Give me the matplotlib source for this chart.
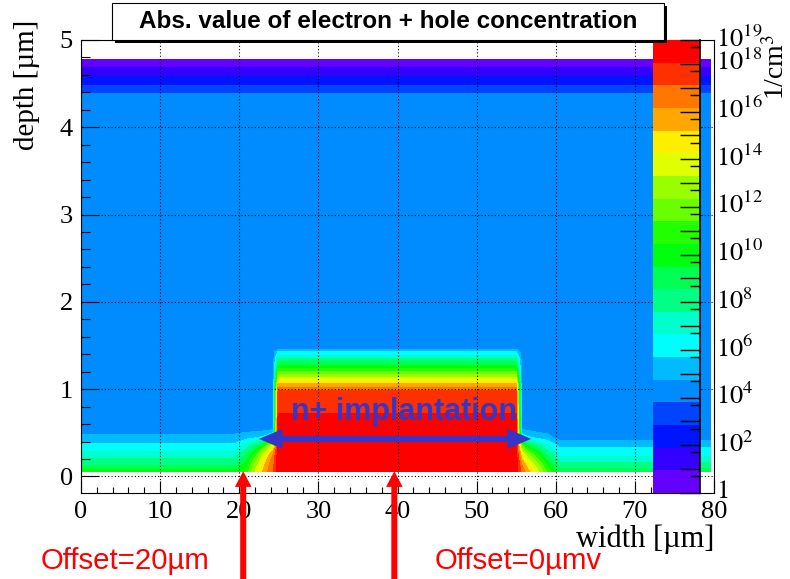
import numpy as np
import matplotlib
matplotlib.use("Agg")
import matplotlib.pyplot as plt
import matplotlib.transforms as mtransforms
from matplotlib.colors import hsv_to_rgb
from matplotlib.patches import Rectangle, FancyArrow
from matplotlib.ticker import FixedLocator, MultipleLocator, FuncFormatter

plt.rcParams["font.family"] = ["Liberation Serif", "DejaVu Serif"]
plt.rcParams["mathtext.fontset"] = "stix"

# ---------------------------------------------------------------------------
# Simulated carrier concentration, log10(|n| + |p|) in 1/cm^3
# ---------------------------------------------------------------------------
depth_um = [0.06, 0.15, 0.25, 0.35, 0.45, 0.55, 0.75, 0.98, 1.06, 1.20,
            1.35, 1.43, 1.47, 4.33, 4.785]
n_surface = 6                      # nodes of the shallow surface layer

bulk_log = 4.3                     # undepleted bulk
back_side_log = 0.1                # depleted back side

# n+ implant, full depth profile
implant_x = [24.9, 30.0, 40.0, 50.0, 55.0]
implant_log = [18.6, 18.6, 18.55, 18.5, 18.45, 18.4, 18.0, 17.1, 15.2, 11.4,
               7.6, 5.7, 4.3, 4.3, 0.1]

# surface layer away from the implant
left_x = [0.0, 5.0, 10.0, 15.0, 19.5]
left_surface_log = [9.8, 8.2, 7.1, 6.0, 5.0, 4.3]
right_x = [60.5, 65.0, 70.0, 75.0, 79.6]
right_surface_log = [9.0, 7.8, 6.4, 5.5, 4.3, 4.3]

# lateral diffusion next to the implant
left_edge_x = [21.0, 22.5, 23.7, 24.3]
left_edge_log = [
    [11.0, 10.0, 8.8, 7.2, 5.3, 4.3],
    [14.5, 13.5, 12.0, 9.0, 5.6, 4.3],
    [16.3, 16.0, 15.0, 12.5, 6.3, 4.3],
    [17.0, 16.8, 16.2, 14.0, 7.0, 4.5],
]
right_edge_x = [55.7, 56.5, 57.7, 59.0]
right_edge_log = [
    [16.8, 16.0, 14.5, 11.5, 6.5, 4.5],
    [15.5, 14.3, 12.5, 9.5, 5.8, 4.4],
    [13.5, 12.5, 10.5, 8.0, 5.3, 4.3],
    [11.0, 9.8, 8.2, 6.8, 5.0, 4.3],
]

z_decades = 19                     # colour scale 1 ... 1e19
n_contours = 20

title = "Abs. value of electron + hole concentration"
offset_marks = [20.5, 39.6]
offset_texts = ["Offset=20\u00b5m", "Offset=0\u00b5mv"]
implant_span = [22.5, 56.9]


def outside_column(surface):
    rest = len(depth_um) - n_surface - 1
    return list(surface) + [bulk_log] * rest + [back_side_log]


columns = []
columns += [(x, outside_column(left_surface_log)) for x in left_x]
columns += [(x, outside_column(s)) for x, s in zip(left_edge_x, left_edge_log)]
columns += [(x, implant_log) for x in implant_x]
columns += [(x, outside_column(s)) for x, s in zip(right_edge_x, right_edge_log)]
columns += [(x, outside_column(right_surface_log)) for x in right_x]
columns.sort(key=lambda c: c[0])
grid_x = np.array([c[0] for c in columns])
grid_z = np.array([c[1] for c in columns]).T

# ROOT "pretty" palette (50 hues, violet -> red) sampled for 20 contours
band_colors = []
for k in range(n_contours):
    idx = int((k + 0.99) * 50 / n_contours)
    hue = 280.0 - (idx + 1) * 280.0 / 50
    band_colors.append(hsv_to_rgb((hue / 360.0, 1.0, 1.0)))
levels = np.linspace(0, z_decades, n_contours + 1)

# ---------------------------------------------------------------------------
W, H = 790, 579
fig = plt.figure(figsize=(W / 100, H / 100), dpi=100)


def px_box(left, top, right, bottom):
    return [left / W, 1 - bottom / H, (right - left) / W, (bottom - top) / H]


ax = fig.add_axes(px_box(81, 40, 714, 493))
cs = ax.contourf(grid_x, depth_um, grid_z, levels=levels, colors=band_colors,
                 zorder=1)
ax.set_xlim(0, 80)
ax.set_ylim(-0.19, 5)
ax.xaxis.set_major_locator(MultipleLocator(10))
ax.xaxis.set_minor_locator(MultipleLocator(2))
ax.yaxis.set_major_locator(MultipleLocator(1))
ax.yaxis.set_minor_locator(MultipleLocator(0.2))
ax.set_axisbelow(False)
ax.grid(True, which="major", color="black", linestyle=(0, (1, 2)),
        linewidth=0.8)
ax.tick_params(which="both", direction="in", top=False, right=False,
               labelsize=19, width=0.8)
ax.tick_params(axis="x", which="major", length=8.6, pad=6)
ax.tick_params(axis="x", which="minor", length=4.3)
ax.tick_params(axis="y", which="major", length=12.7, pad=6)
ax.tick_params(axis="y", which="minor", length=6.3)
for sp in ax.spines.values():
    sp.set_linewidth(0.8)

# implant annotation
arrow_blue = "#3535c8"
mid = 0.5 * (implant_span[0] + implant_span[1])
for end in implant_span:
    ax.add_patch(FancyArrow(mid, 0.43, end - mid, 0, width=0.07,
                            head_width=0.23, head_length=3.0,
                            length_includes_head=True, color=arrow_blue,
                            lw=0, zorder=4))
ax.text(40.8, 0.74, "n+ implantation", color=arrow_blue, fontsize=22,
        fontweight="bold", family=["Liberation Sans", "DejaVu Sans"],
        ha="center", va="center", zorder=4)

# strip offset markers
for xm in offset_marks:
    ax.add_patch(FancyArrow(xm, -1.25, 0, 1.31, width=0.76, head_width=2.1,
                            head_length=0.18, length_includes_head=True,
                            color="red", lw=0, clip_on=False, zorder=5))

# palette
cax = fig.add_axes(px_box(653, 40, 700, 493))
cbar = fig.colorbar(cs, cax=cax)
cbar.outline.set_visible(False)
cax.axvline(1.0, color="black", lw=1.2, clip_on=False)
cax.yaxis.set_major_locator(FixedLocator(range(z_decades + 1)))
cax.yaxis.set_minor_locator(
    FixedLocator([k + np.log10(5) for k in range(z_decades)]))


def decade_label(v, pos):
    k = int(round(v))
    if k == 0:
        return "$1$"
    if k % 2 == 0 or k == z_decades:
        return "$10^{%d}$" % k
    return ""


cax.yaxis.set_major_formatter(FuncFormatter(decade_label))
cax.tick_params(which="both", direction="in", right=True, left=False,
                labelsize=19, pad=11.5, width=1.0)
cax.tick_params(which="major", length=14.4)
cax.tick_params(which="minor", length=7.2)
lift = mtransforms.ScaledTranslation(0, 4 / 100, fig.dpi_scale_trans)
for lbl in cax.get_yticklabels():
    lbl.set_transform(lbl.get_transform() + lift)

# title pave with shadow
fig.add_artist(Rectangle((115 / W, 1 - 43 / H), 552 / W, 37 / H,
                         transform=fig.transFigure, facecolor="black",
                         edgecolor="black", lw=0, zorder=5))
fig.add_artist(Rectangle((112 / W, 1 - 40 / H), 552 / W, 37 / H,
                         transform=fig.transFigure, facecolor="white",
                         edgecolor="black", lw=0.8, zorder=6))
fig.text(388 / W, 1 - 21.5 / H, title, ha="center", va="center",
         fontsize=17.5, fontweight="bold",
         family=["Liberation Sans", "DejaVu Sans"], zorder=7)

# axis titles
fig.text(27 / W, 1 - 20 / H, "depth [\u00b5m]", rotation=90, ha="center",
         va="top", fontsize=21)
fig.text(714 / W, 1 - 539 / H, "width [\u00b5m]", ha="right", va="center",
         fontsize=22)
fig.text(777 / W, 1 - 34 / H, "1/cm$^3$", rotation=90, ha="center", va="top",
         fontsize=20)

for xm, label, cx in zip(offset_marks, offset_texts, [125, 518]):
    fig.text(cx / W, 1 - 561 / H, label, color="red", fontsize=21.2,
             family=["Liberation Sans", "DejaVu Sans"], ha="center",
             va="center")

fig.savefig("out.png", dpi=100)
